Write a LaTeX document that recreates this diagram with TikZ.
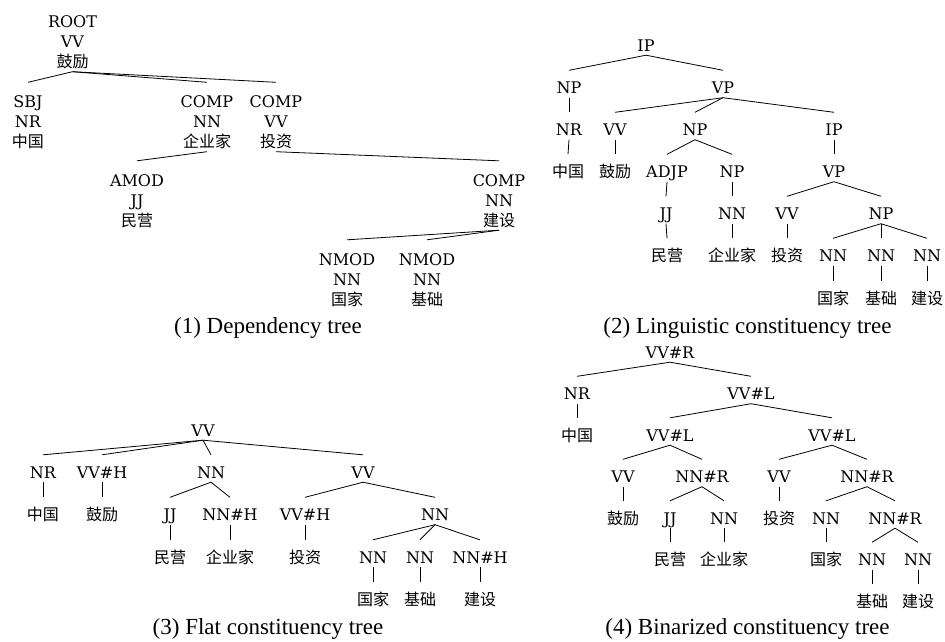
\documentclass[tikz,border=0pt]{standalone}
\usepackage{fontspec}
\newfontfamily\lblfont{DejaVu Serif}
\newfontfamily\cjkfont{Noto Sans CJK SC}
\newfontfamily\capfont{Liberation Serif}
\begin{document}
\begin{tikzpicture}[x=1pt,y=-1pt,
  lab/.style={font=\lblfont\fontsize{16}{20}\selectfont, anchor=base, yshift=-6pt, text height=23pt, text depth=4pt, inner sep=0pt},
  wrd/.style={lab, font=\cjkfont\fontsize{16}{20}\selectfont},
  dlab/.style={lab, text height=25pt},
  capt/.style={font=\capfont\fontsize{23}{28}\selectfont, anchor=base, inner sep=0pt},
  edge/.style={line width=0.8pt}]
\useasboundingbox (0,0) rectangle (945,641);

% ---------- (1) Dependency tree ----------
\node[dlab] (d-root-l) at (72.5,21.5) {ROOT};
\node[lab]  (d-root-p) at (72.5,41.5) {VV};
\node[wrd]  (d-root-w) at (72.5,61.5) {鼓励};
\node[dlab] (d-sbj-l) at (28,101.5) {SBJ};
\node[lab]  (d-sbj-p) at (28,121.5) {NR};
\node[wrd]  (d-sbj-w) at (28,141.5) {中国};
\node[dlab] (d-c1-l) at (207,101.5) {COMP};
\node[lab]  (d-c1-p) at (207,121.5) {NN};
\node[wrd]  (d-c1-w) at (207,141.5) {企业家};
\node[dlab] (d-c2-l) at (276,101.5) {COMP};
\node[lab]  (d-c2-p) at (276,121.5) {VV};
\node[wrd]  (d-c2-w) at (276,141.5) {投资};
\node[dlab] (d-am-l) at (137,180) {AMOD};
\node[lab]  (d-am-p) at (137,200) {JJ};
\node[wrd]  (d-am-w) at (137,220) {民营};
\node[dlab] (d-c3-l) at (499,180) {COMP};
\node[lab]  (d-c3-p) at (499,200) {NN};
\node[wrd]  (d-c3-w) at (499,220) {建设};
\node[dlab] (d-n1-l) at (347,259) {NMOD};
\node[lab]  (d-n1-p) at (347,279) {NN};
\node[wrd]  (d-n1-w) at (347,299) {国家};
\node[dlab] (d-n2-l) at (427,259) {NMOD};
\node[lab]  (d-n2-p) at (427,279) {NN};
\node[wrd]  (d-n2-w) at (427,299) {基础};
\draw[edge] (d-root-w.south) -- (d-sbj-l.north);
\draw[edge] (d-root-w.south) -- (d-c1-l.north);
\draw[edge] (d-root-w.south) -- (d-c2-l.north);
\draw[edge] (d-c1-w.south) -- (d-am-l.north);
\draw[edge] (d-c2-w.south) -- (d-c3-l.north);
\draw[edge] (d-c3-w.south) -- (d-n1-l.north);
\draw[edge] (d-c3-w.south) -- (d-n2-l.north);
\node[capt] (cap1) at (268,333) {(1) Dependency tree};

% ---------- (2) Linguistic constituency tree ----------
\node[lab] (l-ip) at (646,45) {IP};
\node[lab] (l-np1) at (569,87.5) {NP};
\node[lab] (l-vp1) at (723,87.5) {VP};
\node[lab] (l-nr) at (569,129.5) {NR};
\node[lab] (l-vv1) at (615,129.5) {VV};
\node[lab] (l-np2) at (695,129.5) {NP};
\node[lab] (l-ip2) at (834,129.5) {IP};
\node[wrd] (l-w1) at (568,171.5) {中国};
\node[wrd] (l-w2) at (615,171.5) {鼓励};
\node[lab] (l-adjp) at (667,171.5) {ADJP};
\node[lab] (l-np3) at (732,171.5) {NP};
\node[lab] (l-vp2) at (834,171.5) {VP};
\node[lab] (l-jj) at (666,213.5) {JJ};
\node[lab] (l-nn1) at (732,213.5) {NN};
\node[lab] (l-vv2) at (787,213.5) {VV};
\node[lab] (l-np4) at (881,213.5) {NP};
\node[wrd] (l-w3) at (667,255.5) {民营};
\node[wrd] (l-w4) at (732,255.5) {企业家};
\node[wrd] (l-w5) at (787,255.5) {投资};
\node[lab] (l-nna) at (833,255.5) {NN};
\node[lab] (l-nnb) at (881,255.5) {NN};
\node[lab] (l-nnc) at (927,255.5) {NN};
\node[wrd] (l-w6) at (833,298) {国家};
\node[wrd] (l-w7) at (881,298) {基础};
\node[wrd] (l-w8) at (927,298) {建设};
\draw[edge] (l-ip.south) -- (l-np1.north);
\draw[edge] (l-ip.south) -- (l-vp1.north);
\draw[edge] (l-np1.south) -- (l-nr.north);
\draw[edge] (l-nr.south) -- (l-w1.north);
\draw[edge] (l-vp1.south) -- (l-vv1.north);
\draw[edge] (l-vp1.south) -- (l-np2.north);
\draw[edge] (l-vp1.south) -- (l-ip2.north);
\draw[edge] (l-vv1.south) -- (l-w2.north);
\draw[edge] (l-np2.south) -- (l-adjp.north);
\draw[edge] (l-np2.south) -- (l-np3.north);
\draw[edge] (l-adjp.south) -- (l-jj.north);
\draw[edge] (l-jj.south) -- (l-w3.north);
\draw[edge] (l-np3.south) -- (l-nn1.north);
\draw[edge] (l-nn1.south) -- (l-w4.north);
\draw[edge] (l-ip2.south) -- (l-vp2.north);
\draw[edge] (l-vp2.south) -- (l-vv2.north);
\draw[edge] (l-vp2.south) -- (l-np4.north);
\draw[edge] (l-vv2.south) -- (l-w5.north);
\draw[edge] (l-np4.south) -- (l-nna.north);
\draw[edge] (l-np4.south) -- (l-nnb.north);
\draw[edge] (l-np4.south) -- (l-nnc.north);
\draw[edge] (l-nna.south) -- (l-w6.north);
\draw[edge] (l-nnb.south) -- (l-w7.north);
\draw[edge] (l-nnc.south) -- (l-w8.north);
\node[capt] (cap2) at (747.5,333) {(2) Linguistic constituency tree};

% ---------- (3) Flat constituency tree ----------
\node[lab] (f-vv) at (203,430) {VV};
\node[lab] (f-nr) at (43,472) {NR};
\node[lab] (f-vvh) at (102,472) {VV\#H};
\node[lab] (f-nn) at (211,472) {NN};
\node[lab] (f-vv2) at (363,472) {VV};
\node[wrd] (f-w1) at (43,514.5) {中国};
\node[wrd] (f-w2) at (102,514.5) {鼓励};
\node[lab] (f-jj) at (170,514.5) {JJ};
\node[lab] (f-nnh) at (230,514.5) {NN\#H};
\node[lab] (f-vvh2) at (305,514.5) {VV\#H};
\node[lab] (f-nn2) at (435,514.5) {NN};
\node[wrd] (f-w3) at (170,557) {民营};
\node[wrd] (f-w4) at (230,557) {企业家};
\node[wrd] (f-w5) at (305,557) {投资};
\node[lab] (f-nna) at (373,557) {NN};
\node[lab] (f-nnb) at (420,557) {NN};
\node[lab] (f-nnc) at (480,557) {NN\#H};
\node[wrd] (f-w6) at (373,599) {国家};
\node[wrd] (f-w7) at (420,599) {基础};
\node[wrd] (f-w8) at (480,599) {建设};
\draw[edge] (f-vv.south) -- (f-nr.north);
\draw[edge] (f-vv.south) -- (f-vvh.north);
\draw[edge] (f-vv.south) -- (f-nn.north);
\draw[edge] (f-vv.south) -- (f-vv2.north);
\draw[edge] (f-nr.south) -- (f-w1.north);
\draw[edge] (f-vvh.south) -- (f-w2.north);
\draw[edge] (f-nn.south) -- (f-jj.north);
\draw[edge] (f-nn.south) -- (f-nnh.north);
\draw[edge] (f-jj.south) -- (f-w3.north);
\draw[edge] (f-nnh.south) -- (f-w4.north);
\draw[edge] (f-vv2.south) -- (f-vvh2.north);
\draw[edge] (f-vv2.south) -- (f-nn2.north);
\draw[edge] (f-vvh2.south) -- (f-w5.north);
\draw[edge] (f-nn2.south) -- (f-nna.north);
\draw[edge] (f-nn2.south) -- (f-nnb.north);
\draw[edge] (f-nn2.south) -- (f-nnc.north);
\draw[edge] (f-nna.south) -- (f-w6.north);
\draw[edge] (f-nnb.south) -- (f-w7.north);
\draw[edge] (f-nnc.south) -- (f-w8.north);
\node[capt] (cap3) at (268,634) {(3) Flat constituency tree};

% ---------- (4) Binarized constituency tree ----------
\node[lab] (b-r) at (670,352) {VV\#R};
\node[lab] (b-nr) at (577,393.5) {NR};
\node[lab] (b-l1) at (751,393.5) {VV\#L};
\node[wrd] (b-w1) at (577,435) {中国};
\node[lab] (b-l2) at (670,435) {VV\#L};
\node[lab] (b-l3) at (832,435) {VV\#L};
\node[lab] (b-vva) at (623,476.5) {VV};
\node[lab] (b-nra) at (702,476.5) {NN\#R};
\node[lab] (b-vvb) at (779,476.5) {VV};
\node[lab] (b-nrb) at (867,476.5) {NN\#R};
\node[wrd] (b-w2) at (623,518) {鼓励};
\node[lab] (b-jj) at (670,518) {JJ};
\node[lab] (b-nn1) at (724,518) {NN};
\node[wrd] (b-w5) at (779,518) {投资};
\node[lab] (b-nn2) at (826,518) {NN};
\node[lab] (b-nrc) at (895,518) {NN\#R};
\node[wrd] (b-w3) at (670,559.5) {民营};
\node[wrd] (b-w4) at (724,559.5) {企业家};
\node[wrd] (b-w6) at (826,559.5) {国家};
\node[lab] (b-nn3) at (872,559.5) {NN};
\node[lab] (b-nn4) at (918,559.5) {NN};
\node[wrd] (b-w7) at (872,601) {基础};
\node[wrd] (b-w8) at (918,601) {建设};
\draw[edge] (b-r.south) -- (b-nr.north);
\draw[edge] (b-r.south) -- (b-l1.north);
\draw[edge] (b-nr.south) -- (b-w1.north);
\draw[edge] (b-l1.south) -- (b-l2.north);
\draw[edge] (b-l1.south) -- (b-l3.north);
\draw[edge] (b-l2.south) -- (b-vva.north);
\draw[edge] (b-l2.south) -- (b-nra.north);
\draw[edge] (b-vva.south) -- (b-w2.north);
\draw[edge] (b-nra.south) -- (b-jj.north);
\draw[edge] (b-nra.south) -- (b-nn1.north);
\draw[edge] (b-jj.south) -- (b-w3.north);
\draw[edge] (b-nn1.south) -- (b-w4.north);
\draw[edge] (b-l3.south) -- (b-vvb.north);
\draw[edge] (b-l3.south) -- (b-nrb.north);
\draw[edge] (b-vvb.south) -- (b-w5.north);
\draw[edge] (b-nrb.south) -- (b-nn2.north);
\draw[edge] (b-nrb.south) -- (b-nrc.north);
\draw[edge] (b-nn2.south) -- (b-w6.north);
\draw[edge] (b-nrc.south) -- (b-nn3.north);
\draw[edge] (b-nrc.south) -- (b-nn4.north);
\draw[edge] (b-nn3.south) -- (b-w7.north);
\draw[edge] (b-nn4.south) -- (b-w8.north);
\node[capt] (cap4) at (747.5,634) {(4) Binarized constituency tree};
\end{tikzpicture}
\end{document}
